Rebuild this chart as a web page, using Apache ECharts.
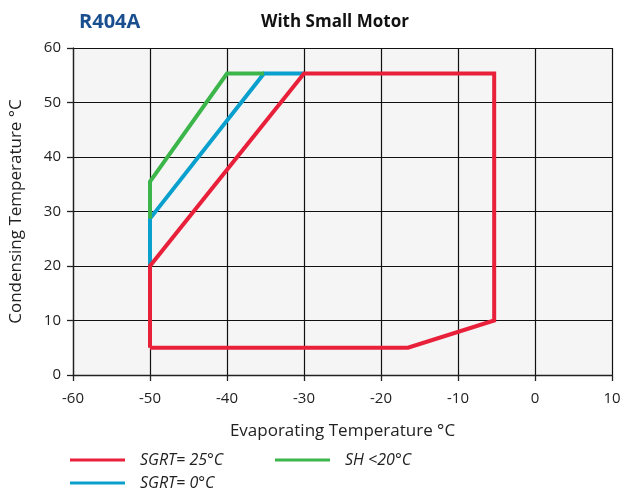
<!DOCTYPE html>
<html><head><meta charset="utf-8">
<script src="https://cdn.jsdelivr.net/npm/echarts@6/dist/echarts.min.js"></script>
<style>html,body{margin:0;padding:0;background:#fff}#c{width:625px;height:498px}</style>
</head><body><div id="c"></div>
<script>
const xTicks = [-60,-50,-40,-30,-20,-10,0,10];
const yTicks = [0,10,20,30,40,50,60];
const sgrt25 = [[-50,5],[-50,20],[-30,55.3],[-5.3,55.3],[-5.3,10],[-16.5,5],[-50,5]];
const sgrt0 = [[-50,20],[-50,28.7],[-35.2,55.3],[-30,55.3]];
const sh20 = [[-50,28.7],[-50,35.5],[-40,55.3],[-35.2,55.3]];
const names = ['SGRT= 25°C','SGRT= 0°C','SH <20°C'];
const colors = ['#e8203a','#0aa0cd','#3cb64a'];
const FONT = '"Open Sans", sans-serif';

const chart = echarts.init(document.getElementById('c'));
function leg(name, left, top){
  return {data:[name], left:left, top:top, icon:'rect', itemWidth:55, itemHeight:3, itemGap:10,
    selectedMode:false, padding:0,
    textStyle:{fontFamily:FONT, fontStyle:'italic', fontSize:16, color:'#222', padding:[0,0,0,10]}};
}
chart.setOption({
  animation:false,
  backgroundColor:'#fff',
  title:[
    {text:'R404A', left:74, top:7, textStyle:{fontFamily:FONT, fontSize:20, fontWeight:'bold', color:'#1a4f8f'}},
    {text:'With Small Motor', left:256, top:9, textStyle:{fontFamily:FONT, fontSize:17, fontWeight:'bold', color:'#111'}}
  ],
  legend:[leg(names[0],70,452), leg(names[2],275,452), leg(names[1],70,475)],
  grid:{left:73, right:13, top:48, bottom:123, show:true, backgroundColor:'#f5f5f5', borderWidth:0,
    containLabel:false, outerBoundsMode:'none'},
  xAxis:{type:'value', min:xTicks[0], max:xTicks[xTicks.length-1], interval:10,
    name:'Evaporating Temperature °C', nameLocation:'middle', nameGap:48,
    nameTextStyle:{fontFamily:FONT, fontSize:17, color:'#222'},
    axisLine:{onZero:false, lineStyle:{color:'#222', width:1.3}},
    axisTick:{show:true, length:6, lineStyle:{color:'#222', width:1.3}},
    axisLabel:{fontFamily:FONT, fontSize:15, color:'#222', margin:16},
    splitLine:{show:true, lineStyle:{color:'#111', width:1.2}}},
  yAxis:{type:'value', min:yTicks[0], max:yTicks[yTicks.length-1], interval:10,
    name:'Condensing Temperature °C', nameLocation:'middle', nameGap:48,
    nameTextStyle:{fontFamily:FONT, fontSize:17, color:'#222'},
    axisLine:{show:true, onZero:false, lineStyle:{color:'#222', width:1.3}},
    axisTick:{show:true, length:6, lineStyle:{color:'#222', width:1.3}},
    axisLabel:{fontFamily:FONT, fontSize:15, color:'#222', margin:12},
    splitLine:{show:true, lineStyle:{color:'#111', width:1.2}}},
  series:[
    {name:names[1], type:'line', data:sgrt0, symbol:'none', z:2, color:colors[1], lineStyle:{width:4, color:colors[1], join:'miter'}},
    {name:names[2], type:'line', data:sh20, symbol:'none', z:3, color:colors[2], lineStyle:{width:4, color:colors[2], join:'miter'}},
    {name:names[0], type:'line', data:sgrt25, symbol:'none', z:4, color:colors[0], lineStyle:{width:4, color:colors[0], join:'miter'}}
  ]
});
</script></body></html>
